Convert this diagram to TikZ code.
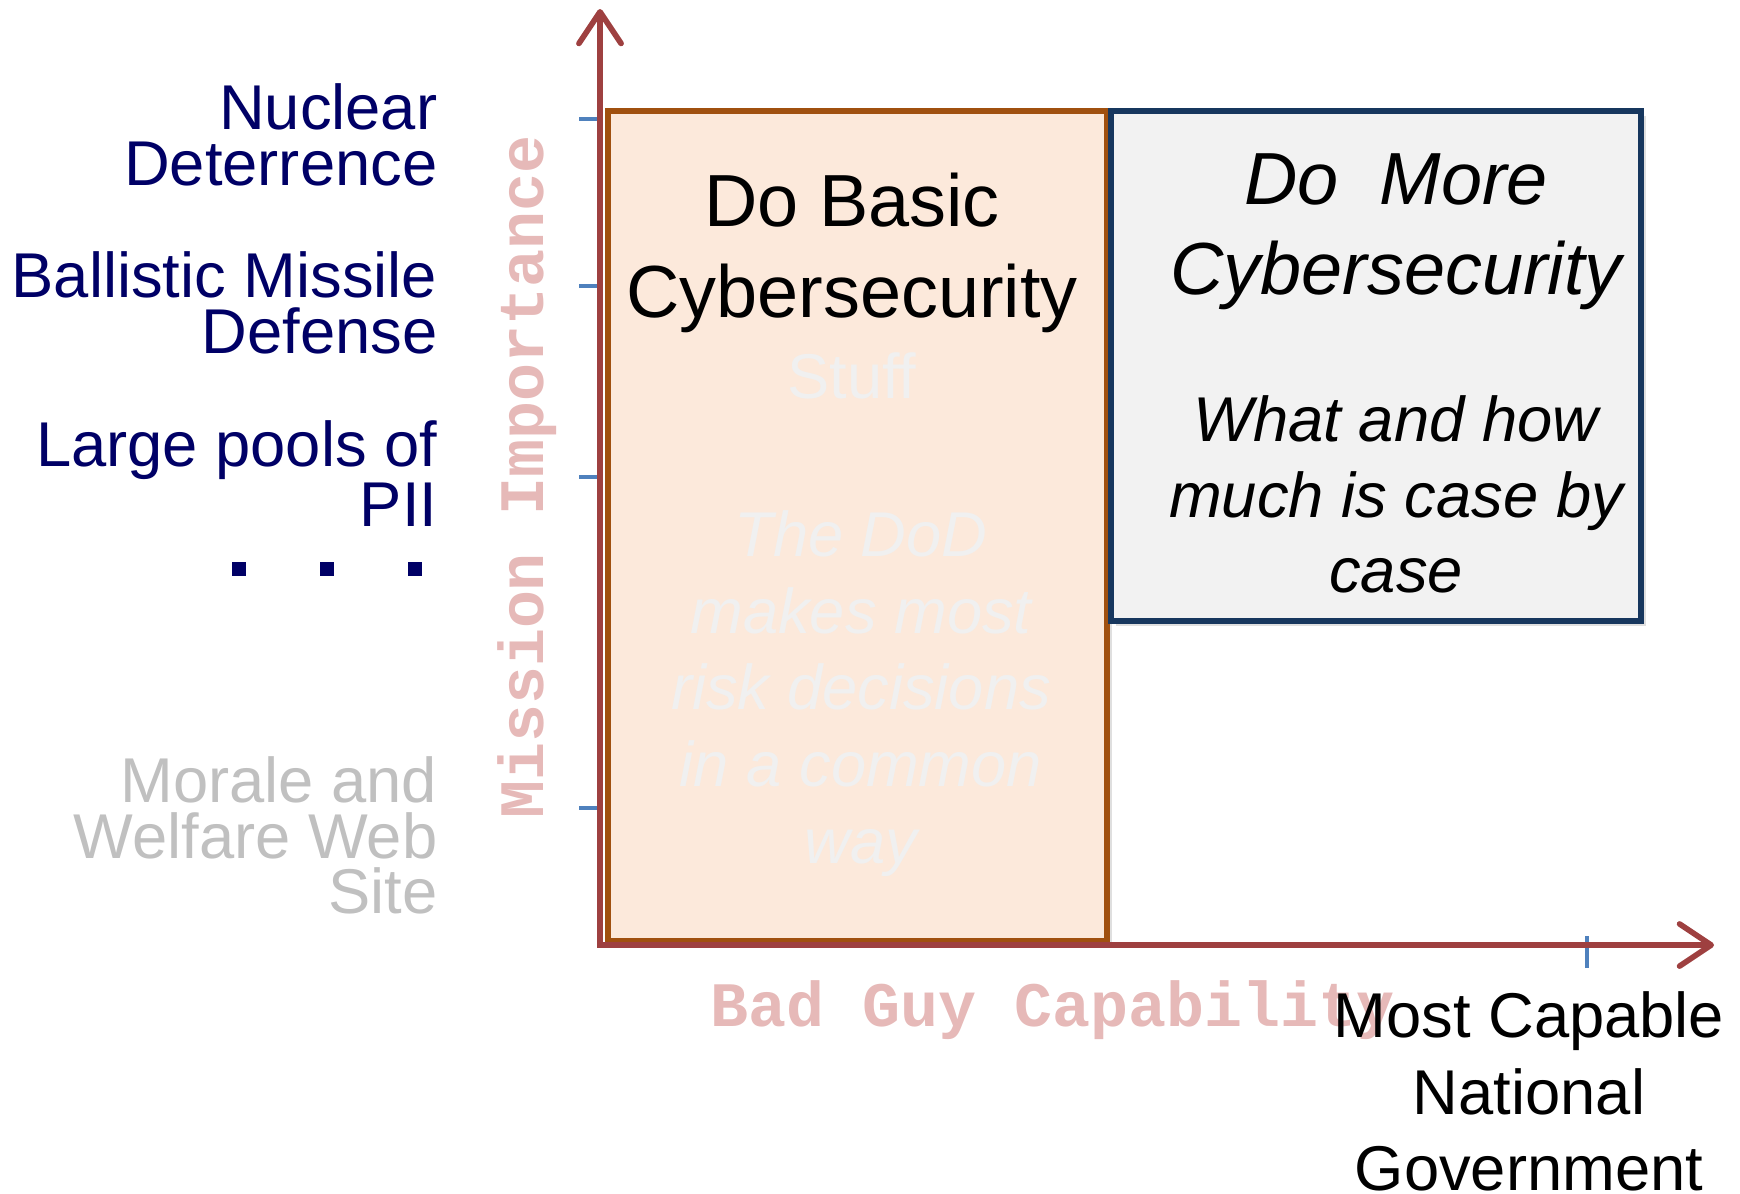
\documentclass[tikz,border=0pt]{standalone}
\usepackage{fontspec}
\setmainfont{Liberation Sans}
\setmonofont{Liberation Mono}
\usetikzlibrary{arrows.meta,positioning,shadows}

\definecolor{axisred}{RGB}{158,64,64}
\definecolor{tickblue}{RGB}{79,129,189}
\definecolor{basicfill}{RGB}{252,233,219}
\definecolor{basicedge}{RGB}{160,80,15}
\definecolor{morefill}{RGB}{242,242,242}
\definecolor{moreedge}{RGB}{23,55,94}
\definecolor{levelblue}{RGB}{0,0,102}
\definecolor{lowgray}{RGB}{192,192,192}
\definecolor{faint}{RGB}{240,240,240}
\definecolor{axispink}{RGB}{230,185,184}

\newcommand{\sqdot}{\rule{0.14cm}{0.14cm}}

\begin{document}
\begin{tikzpicture}[x=0.01cm, y=-0.01cm,
    axisline/.style={draw=axisred, line width=1.6pt, -{Straight Barb[length=9pt,width=12pt,round]}},
    tickmark/.style={draw=tickblue, line width=1.1pt},
    box/.style={line width=1.5pt, drop shadow={opacity=0.25, shadow xshift=1.5pt, shadow yshift=-1.5pt}},
    level/.style={anchor=north east, align=right, inner sep=0pt, text=levelblue,
      font=\fontsize{18}{15.8}\selectfont},
    title/.style={anchor=north, align=center, inner sep=0pt, font=\fontsize{21}{26}\selectfont},
    body/.style={anchor=north, align=center, inner sep=0pt, font=\fontsize{18}{21.7}\selectfont},
    axislabel/.style={inner sep=0pt, text=axispink, font=\fontsize{18}{18}\ttfamily\bfseries}]
    \useasboundingbox (0,0) rectangle (1740,1193);

    % We start by placing the boxes
    \draw[box, draw=basicedge, fill=basicfill] (608,111) rectangle (1107,941);
    \draw[box, draw=moreedge, fill=morefill] (1111,111) rectangle (1641,621);

    % then the axes and their ticks
    \coordinate (origin) at (600,945);
    \coordinate (ytop)   at (600,9);
    \coordinate (xend)   at (1714,945);
    \coordinate (t1) at (579,119);
    \coordinate (t2) at (579,286);
    \coordinate (t3) at (579,477);
    \coordinate (t4) at (579,808);
    \coordinate (xt) at (1587,968);

    \draw[tickmark] (t1) -- (t1 -| origin);
    \draw[tickmark] (t2) -- (t2 -| origin);
    \draw[tickmark] (t3) -- (t3 -| origin);
    \draw[tickmark] (t4) -- (t4 -| origin);
    \draw[tickmark] (xt) -- ++(0,-32);

    \draw[axisline] (origin) -- (ytop);
    \draw[axisline] ([xshift=-0.8pt]origin) -- (xend);

    % texts inside the boxes
    \node[title, name=basic] at (852,172) {Do Basic\\Cybersecurity};
    \node[body, name=stuff, text=faint] at (852,352) {Stuff};
    \node[body, name=dod, text=faint, font=\fontsize{18}{21.8}\itshape] at (861,510)
      {The DoD\\makes most\\risk decisions\\in a common\\way};
    \node[title, name=more, font=\fontsize{21}{25.6}\itshape] at (1396,153)
      {Do\ \ More\\Cybersecurity};
    \node[body, name=howmuch, font=\fontsize{18}{21.5}\itshape] at (1396,395)
      {What and how\\much is case by\\case};

    % the levels of mission importance
    \node[level, name=nuke] at (438,83) {Nuclear\\Deterrence};
    \node[level, name=bmd]  at (438,251) {Ballistic Missile\\Defense};
    \node[level, name=pii]  at (438,420) {Large pools of\\PII};
    \node[level, name=dots] at (423,561)
      {\sqdot\hspace{0.74cm}\sqdot\hspace{0.74cm}\sqdot};
    \node[level, name=morale, text=lowgray] at (438,756) {Morale and\\Welfare Web\\Site};

    % axis labels
    \node[axislabel, name=mission, rotate=90] at (527,477) {Mission Importance};
    \node[axislabel, name=badguy, anchor=west] at (710,1010) {Bad Guy Capability};
    \node[body, name=mostcap, font=\fontsize{18}{21.8}\selectfont] at (1529,991)
      {Most Capable\\National\\Government};
\end{tikzpicture}
\end{document}
